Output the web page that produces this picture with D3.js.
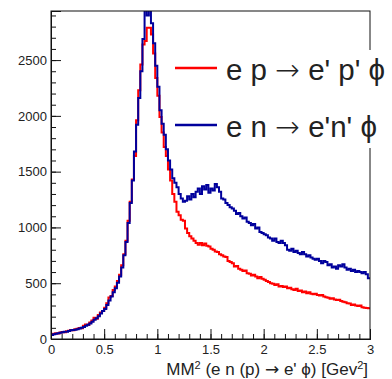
<!DOCTYPE html>
<html>
<head>
<meta charset="utf-8">
<script src="https://cdn.jsdelivr.net/npm/d3@7"></script>
<style>
  body { margin: 0; background: #fff; }
  text { font-family: "Liberation Sans", Arial, sans-serif; fill: #222; }
  .arrow { font-family: "DejaVu Sans", sans-serif; }
</style>
</head>
<body>
<div id="chart-area"></div>
<script>
// DATA: 150 bins of 0.02 GeV^2 from 0 to 3

let binEdges = { lo: 0, hi: 3, n: 150 };

let xTicks = [0, 0.5, 1, 1.5, 2, 2.5, 3];
let yTicks = [0, 500, 1000, 1500, 2000, 2500];

// each label split as [before arrow, after arrow]
let legendLabels = [["e p ", " e' p' \u03d5"], ["e n ", " e'n' \u03d5"]];

let redCounts = [
  40, 48, 52, 50, 58, 62, 60, 70, 74, 80,
  78, 88, 92, 98, 96, 118, 130, 126, 148, 165,
  190, 182, 215, 238, 252, 280, 320, 372, 385, 440,
  470, 520, 575, 660, 760, 880, 1060, 1230, 1430, 1640,
  1960, 2230, 2460, 2640, 2670, 2790, 2790, 2730, 2560, 2340,
  2180, 1990, 1850, 1720, 1640, 1520, 1420, 1300, 1230, 1140,
  1110, 1070, 1060, 990, 950, 920, 900, 880, 860, 845,
  860, 840, 855, 835, 830, 810, 800, 785, 780, 760,
  750, 740, 735, 700, 690, 680, 650, 655, 630, 620,
  610, 615, 590, 585, 570, 575, 560, 545, 555, 540,
  530, 520, 510, 500, 495, 485, 490, 470, 475, 465,
  470, 455, 460, 445, 440, 450, 430, 435, 420, 425,
  410, 420, 405, 400, 405, 395, 390, 395, 380, 375,
  370, 360, 365, 355, 350, 352, 340, 335, 330, 320,
  318, 305, 310, 300, 295, 300, 285, 280, 278, 275
];

let blueCounts = [
  35, 42, 48, 52, 55, 60, 64, 66, 72, 78,
  80, 82, 88, 94, 100, 108, 118, 128, 140, 155,
  172, 185, 205, 228, 250, 270, 305, 345, 380, 420,
  455, 505, 560, 640, 750, 870, 1040, 1220, 1420, 1680,
  1920, 2160, 2400, 2690, 3100, 2900, 3100, 2830, 2650, 2450,
  2260, 2050, 1930, 1830, 1700, 1600, 1520, 1440, 1400, 1360,
  1300, 1260, 1230, 1240, 1280, 1250, 1300, 1270, 1320, 1350,
  1300, 1370, 1340, 1380, 1310, 1350, 1330, 1390, 1360, 1320,
  1260, 1250, 1220, 1200, 1180, 1170, 1150, 1120, 1130, 1100,
  1080, 1090, 1050, 1040, 1020, 1030, 990, 1000, 960, 950,
  940, 930, 910, 900, 880, 900, 870, 860, 880, 860,
  840, 800, 790, 810, 780, 790, 770, 760, 780, 760,
  740, 750, 730, 720, 710, 720, 700, 680, 700, 690,
  660, 670, 640, 650, 630, 660, 650, 670, 640, 620,
  630, 610, 620, 600, 610, 600, 590, 600, 580, 545
];

// CHART AREA

let margin = { top: 11, right: 22, bottom: 40, left: 51 },
  width = 392 - margin.left - margin.right,
  height = 379 - margin.top - margin.bottom;

let svg = d3
  .select("#chart-area")
  .append("svg")
  .attr("width", 392)
  .attr("height", 379)
  .append("g")
  .attr("transform", "translate(" + margin.left + "," + margin.top + ")");

let x = d3.scaleLinear().domain([binEdges.lo, binEdges.hi]).range([0, width]);
let y = d3.scaleLinear().domain([0, 2940]).range([height, 0]);

svg.append("clipPath")
  .attr("id", "plot-clip")
  .append("rect")
  .attr("width", width)
  .attr("height", height);

// ---- HISTOGRAMS ----
let binW = (binEdges.hi - binEdges.lo) / binEdges.n;

function stepPoints(counts) {
  let pts = counts.map(function(c, i) {
    return [binEdges.lo + i * binW, c];
  });
  pts.push([binEdges.hi, counts[counts.length - 1]]);
  return pts;
}

let line = d3.line()
  .x(function(d) { return x(d[0]); })
  .y(function(d) { return y(d[1]); })
  .curve(d3.curveStepAfter);

svg.append("path")
  .datum(stepPoints(redCounts))
  .attr("clip-path", "url(#plot-clip)")
  .attr("fill", "none")
  .attr("stroke", "#ff0000")
  .attr("stroke-width", 2)
  .attr("d", line);

svg.append("path")
  .datum(stepPoints(blueCounts))
  .attr("clip-path", "url(#plot-clip)")
  .attr("fill", "none")
  .attr("stroke", "#00009c")
  .attr("stroke-width", 2)
  .attr("d", line);

// ---- FRAME ----
svg.append("rect")
  .attr("width", width)
  .attr("height", height)
  .attr("fill", "none")
  .attr("stroke", "#111")
  .attr("stroke-width", 1);

// ---- AXES (ROOT style, ticks pointing inward) ----
let xAxis = d3.axisBottom(x)
  .tickValues(xTicks)
  .tickSize(-10)
  .tickPadding(6)
  .tickFormat(d3.format("~g"));

let xMinor = d3.axisBottom(x)
  .tickValues(d3.range(0, 31).map(function(i) { return i / 10; }))
  .tickSize(-5)
  .tickFormat("");

let yAxis = d3.axisLeft(y)
  .tickValues(yTicks)
  .tickSize(-10)
  .tickPadding(4)
  .tickFormat(d3.format("d"));

let yMinor = d3.axisLeft(y)
  .tickValues(d3.range(0, 30).map(function(i) { return i * 100; }))
  .tickSize(-5)
  .tickFormat("");

function styleAxis(g) {
  g.select(".domain").attr("stroke", "#111");
  g.selectAll(".tick line").attr("stroke", "#111");
  g.selectAll("text").style("font-size", "13px").attr("fill", "#222");
}

svg.append("g").attr("transform", "translate(0," + height + ")").call(xMinor).call(styleAxis);
svg.append("g").attr("transform", "translate(0," + height + ")").call(xAxis).call(styleAxis);
svg.append("g").call(yMinor).call(styleAxis);
svg.append("g").call(yAxis).call(styleAxis);

// ---- LEGEND ----
let legend = svg.append("g").attr("transform", "translate(" + (168 - margin.left) + "," + (50 - margin.top) + ")");

legend.append("rect")
  .attr("width", 230)
  .attr("height", 98)
  .attr("fill", "#fff");

let legendColors = ["#ff0000", "#00009c"];

legendLabels.forEach(function(lbl, i) {
  let ly = 18 + i * 57;
  legend.append("line")
    .attr("x1", 7).attr("x2", 49)
    .attr("y1", ly).attr("y2", ly)
    .attr("stroke", legendColors[i])
    .attr("stroke-width", 2.5);
  let t = legend.append("text")
    .attr("x", 58)
    .attr("y", ly + 12)
    .style("font-size", "29.5px");
  t.append("tspan").text(lbl[0]);
  t.append("tspan").attr("class", "arrow").style("font-weight", "200").text("\u2192");
  t.append("tspan").text(lbl[1]);
});

// ---- AXIS TITLE ----
let title = svg.append("text")
  .attr("x", width - 2)
  .attr("y", height + 36)
  .style("text-anchor", "end")
  .style("font-size", "17px");

title.append("tspan").text("MM");
title.append("tspan").attr("dy", -6).style("font-size", "11px").text("2");
title.append("tspan").attr("dy", 6).text(" (e n (p) ");
title.append("tspan").attr("class", "arrow").text("\u2192");
title.append("tspan").text(" e' \u03d5)  [Gev");
title.append("tspan").attr("dy", -6).style("font-size", "11px").text("2");
title.append("tspan").attr("dy", 6).text("]");
</script>
</body>
</html>
